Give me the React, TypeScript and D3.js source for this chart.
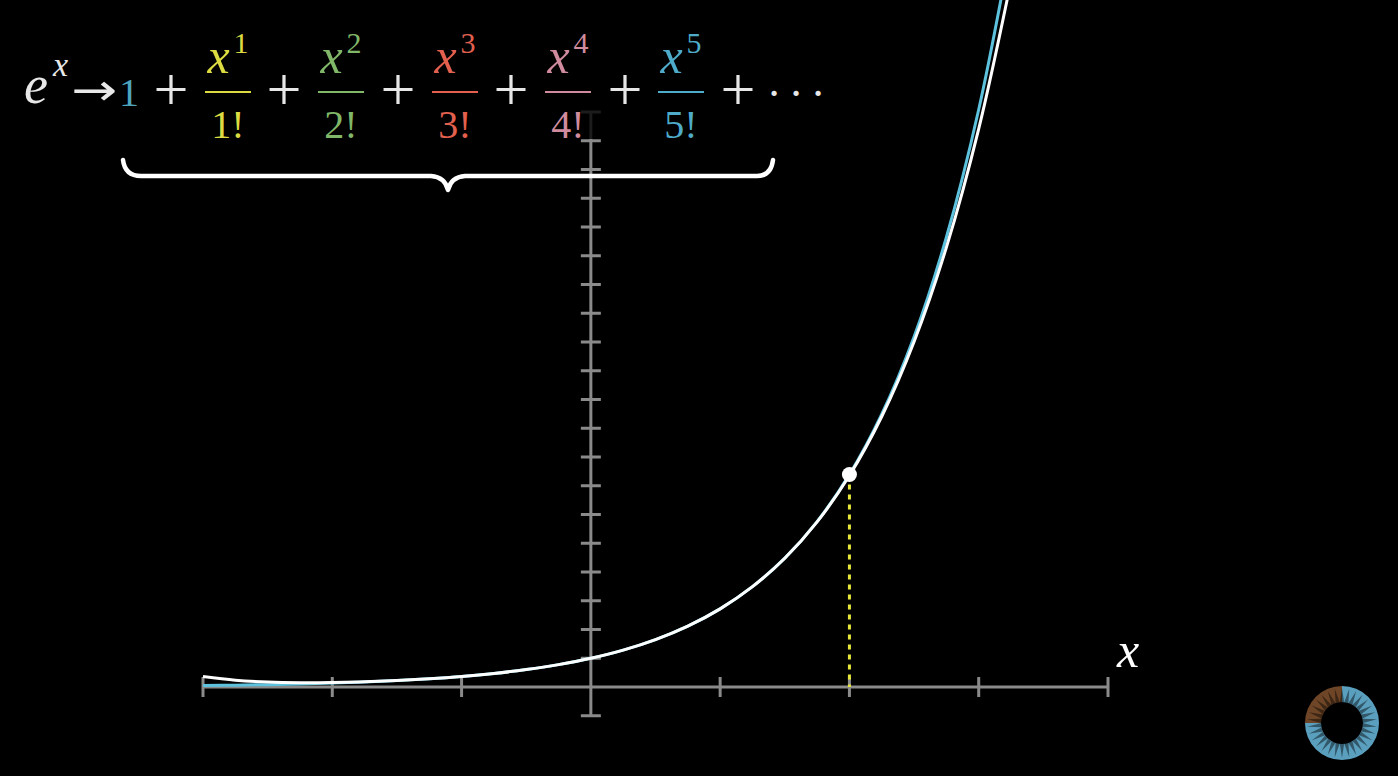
import React from 'react';
import * as d3 from 'd3';

// axis ticks
const xTicks = [-3, -2, -1, 0, 1, 2, 3, 4];
const yTicks = [-1, 1, 2, 3, 4, 5, 6, 7, 8, 9, 10, 11, 12, 13, 14, 15, 16, 17, 18, 19, 20];

// sample points of the two curves
const sampleX = [-3, -2.75, -2.5, -2.25, -2, -1.75, -1.5, -1.25, -1, -0.75, -0.5, -0.25, 0,
  0.25, 0.5, 0.75, 1, 1.25, 1.5, 1.75, 2, 2.25, 2.5, 2.75, 3, 3.25];
const expValues = [0.0498, 0.0639, 0.0821, 0.1054, 0.1353, 0.1738, 0.2231, 0.2865, 0.3679, 0.4724,
  0.6065, 0.7788, 1, 1.284, 1.6487, 2.117, 2.7183, 3.4903, 4.4817, 5.7546, 7.3891, 9.4877,
  12.1825, 15.6426, 20.0855, 25.7903];
const approxValues = [0.3625, 0.2382, 0.1737, 0.1503, 0.1556, 0.1819, 0.226, 0.2873, 0.3681, 0.4724,
  0.6065, 0.7788, 1, 1.284, 1.6487, 2.117, 2.7181, 3.4892, 4.4775, 5.7419, 7.3556, 9.4083,
  12.0097, 15.2917, 19.4125, 24.5595];

// highlighted point
const pointX = 2;
const pointY = 7.3891;

// formula terms
const termPowers = ['1', '2', '3', '4', '5'];
const termColors = ['#dcdc42', '#80b768', '#e3604f', '#d08c9e', '#4eabc9'];
const constColor = '#4ea3bd';

const W = 1398;
const H = 776;

const serif = { fontFamily: "'Liberation Serif'" };

function Spinner({ cx, cy }: { cx: number; cy: number }) {
  const ring = d3.arc<any>().innerRadius(21).outerRadius(37);
  const spikes = d3.range(30).map((i) => (i / 30) * Math.PI * 2);
  const p = (ang: number, r: number) => `${Math.sin(ang) * r},${-Math.cos(ang) * r}`;
  return (
    <g transform={`translate(${cx},${cy})`}>
      <path d={ring({ startAngle: -Math.PI / 2, endAngle: 0 }) as string} fill="#6e4526" />
      <path d={ring({ startAngle: 0, endAngle: Math.PI * 1.5 }) as string} fill="#5a9fbe" />
      {spikes.map((a, i) => (
        <polygon key={i} points={`${p(a - 0.1, 21)} ${p(a, 35)} ${p(a + 0.1, 21)}`} fill="rgba(0,0,0,0.45)" />
      ))}
    </g>
  );
}

export default function App() {
  const x = d3.scaleLinear().domain([-3, 4]).range([203, 1108]);
  const y = d3.scaleLinear().domain([-1, 20]).range([715.75, 112]);

  const line = d3.line<number>()
    .x((_, i) => x(sampleX[i]))
    .y((d) => y(d))
    .curve(d3.curveCatmullRom);

  const axisColor = '#8a8a8a';
  const fracCenters = [228, 341, 455, 568, 681];
  const plusCenters = [171, 284, 398, 511, 625, 738];
  const dotCenters = [774, 796, 818];

  return (
    <svg width={W} height={H} style={{ position: 'absolute', left: 0, top: 0, background: '#000' }}>
      <rect width={W} height={H} fill="#000" />

      {/* x axis */}
      <line x1={x(-3)} x2={x(4)} y1={y(0)} y2={y(0)} stroke={axisColor} strokeWidth={3} />
      {xTicks.filter((t) => t !== 0).map((t) => (
        <line key={t} x1={x(t)} x2={x(t)} y1={y(0) - 10} y2={y(0) + 10} stroke={axisColor} strokeWidth={3} />
      ))}

      {/* y axis */}
      <line x1={x(0)} x2={x(0)} y1={y(-1)} y2={y(20)} stroke={axisColor} strokeWidth={3} />
      {yTicks.map((t) => (
        <line key={t} x1={x(0) - 10} x2={x(0) + 10} y1={y(t)} y2={y(t)} stroke={axisColor} strokeWidth={3} />
      ))}

      <text x={1117} y={667} fill="#fff" style={serif} fontStyle="italic" fontSize={50}>x</text>

      {/* curves */}
      <path d={line(expValues) as string} fill="none" stroke="#5cc2de" strokeWidth={3} />
      <path d={line(approxValues) as string} fill="none" stroke="#fff" strokeWidth={3} />

      {/* highlighted point */}
      <line x1={x(pointX)} x2={x(pointX)} y1={y(pointY)} y2={y(0)} stroke="#e8e83c"
        strokeWidth={3} strokeDasharray="5 5" />
      <circle cx={x(pointX)} cy={y(pointY)} r={7.5} fill="#fff" />

      {/* backdrop behind the formula */}
      <rect x={0} y={0} width={830} height={139} fill="#000" opacity={0.8} />

      {/* formula */}
      <g>
        <text x={24} y={103} fill="#e8e8e8" style={serif} fontSize={54} fontStyle="italic">e</text>
        <text x={53} y={76} fill="#e8e8e8" style={serif} fontSize={34} fontStyle="italic">x</text>
        <text x={71} y={105} fill="#e8e8e8" fontSize={44} style={{ fontFamily: "'DejaVu Sans'" }}
          textLength={46} lengthAdjust="spacingAndGlyphs">→</text>
        <text x={119} y={106} fill={constColor} style={serif} fontSize={40}>1</text>

        {plusCenters.map((c, i) => (
          <text key={i} x={c} y={110} textAnchor="middle" fill="#e6e6e6" style={serif} fontSize={62}>+</text>
        ))}

        {termPowers.map((p, i) => (
          <g key={p} fill={termColors[i]}>
            <text x={fracCenters[i]} y={73} textAnchor="middle" style={serif} fontSize={50}>
              <tspan fontStyle="italic">x</tspan>
              <tspan dy={-20} dx={4} fontSize={30}>{p}</tspan>
            </text>
            <line x1={fracCenters[i] - 23} x2={fracCenters[i] + 23} y1={92} y2={92}
              stroke={termColors[i]} strokeWidth={2} />
            <text x={fracCenters[i]} y={138} textAnchor="middle" style={serif} fontSize={40}>{p}!</text>
          </g>
        ))}

        {dotCenters.map((c, i) => (
          <text key={i} x={c} y={108} textAnchor="middle" fill="#e6e6e6" style={serif} fontSize={44}>·</text>
        ))}
      </g>

      {/* brace */}
      <path d="M123,160 Q125,176 141,176 L431,176 Q445,177 448,190 Q451,177 465,176 L757,176 Q771,176 773,160"
        fill="none" stroke="#fff" strokeWidth={4.5} strokeLinecap="round" strokeLinejoin="round" />

      <Spinner cx={1342} cy={723} />
    </svg>
  );
}
